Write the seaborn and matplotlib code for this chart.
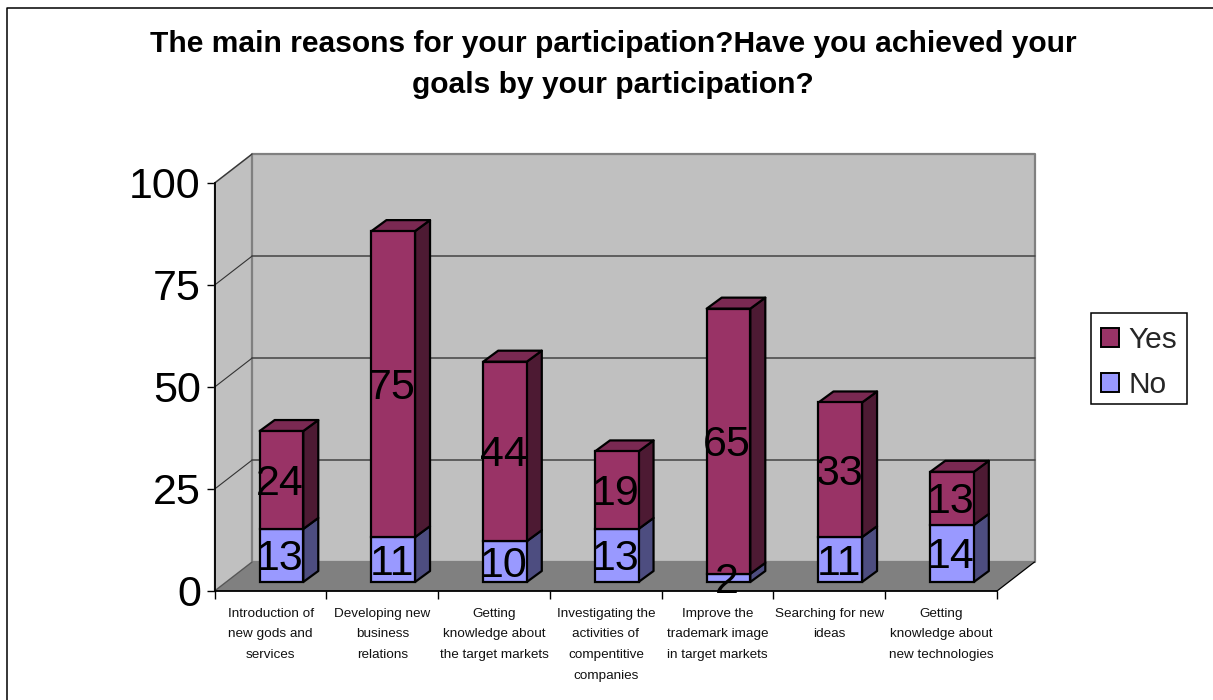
import matplotlib
matplotlib.use('Agg')
import matplotlib.pyplot as plt
import numpy as np
import pandas as pd
import seaborn as sns
from matplotlib.lines import Line2D
from matplotlib.patches import Patch, Polygon, Rectangle
from matplotlib.transforms import Affine2D, IdentityTransform

title = 'The main reasons for your participation?Have you achieved your\ngoals by your participation?'
categories = ['Introduction of\nnew gods and\nservices',
              'Developing new\nbusiness\nrelations',
              'Getting\nknowledge about\nthe target markets',
              'Investigating the\nactivities of\ncompentitive\ncompanies',
              'Improve the\ntrademark image\nin target markets',
              'Searching for new\nideas',
              'Getting\nknowledge about\nnew technologies']
no_values = [13, 11, 10, 13, 2, 11, 14]
yes_values = [24, 75, 44, 19, 65, 33, 13]
y_ticks = [0, 25, 50, 75, 100]

W, H = 1213, 700
WALL = '#C0C0C0'
FLOOR = '#808080'
YES = '#993366'
YES_SIDE = '#4D1A33'
YES_TOP = '#7A2952'
NO = '#9999FF'
NO_SIDE = '#4D4D80'

sns.set_theme(style='white')
plt.rcParams['font.family'] = ['Liberation Sans', 'DejaVu Sans']

fig = plt.figure(figsize=(W / 100, H / 100), dpi=100, facecolor='white')
# front plane of the fake 3D box, in pixels of the picture
left, right, bottom, top = 214.7, 997, 591, 183
ax = fig.add_axes([left / W, 1 - bottom / H, (right - left) / W, (bottom - top) / H])

df = pd.DataFrame({'cat': categories, 'No': no_values, 'Yes': yes_values})
bar_kws = dict(width=0.39, saturation=1, edgecolor='black', linewidth=1.6, legend=False, zorder=5)
sns.barplot(data=df, x='cat', y='No', color=NO, ax=ax, **bar_kws)
sns.barplot(data=df, x='cat', y='Yes', bottom=df['No'].values, color=YES, ax=ax, **bar_kws)
ax.set_xlim(-0.5, 6.5)
ax.set_ylim(0, 100)
ax.set_xlabel('')
ax.set_ylabel('')
ax.patch.set_visible(False)
for side in ['top', 'right']:
    ax.spines[side].set_visible(False)
for side in ['left', 'bottom']:
    ax.spines[side].set_linewidth(1.3)
    ax.spines[side].set_color('black')

# bars stand in the middle of the box depth
bar_tf = ax.transData + Affine2D().translate(10.9, 9)
label_tf = ax.transData + Affine2D().translate(9.5, 5)
depth_x, depth_y = 37.5, 29
bar_dx, bar_dy = 15, 11


def to_px(x, y):
    return ax.transData.transform((x, y))


def add_poly(points, color, zorder, edge='none', lw=0):
    ax.add_patch(Polygon(points, closed=True, facecolor=color, edgecolor=edge, linewidth=lw,
                         transform=IdentityTransform(), clip_on=False, zorder=zorder, joinstyle='round'))


# walls and floor
d = np.array([depth_x, depth_y])
bl, tl, br, tr = to_px(-0.5, 0), to_px(-0.5, 100), to_px(6.5, 0), to_px(6.5, 100)
add_poly([bl, tl, tl + d, bl + d], WALL, 1, '#808080', 1.2)
add_poly([bl + d, tl + d, tr + d, br + d], WALL, 1, '#808080', 1.6)
add_poly([bl, br, br + d, bl + d], FLOOR, 1.5)
ax.add_line(Line2D([br[0], br[0] + depth_x], [br[1], br[1] + depth_y], color='black', lw=0.9,
                   transform=IdentityTransform(), clip_on=False, zorder=2))
ax.add_line(Line2D([bl[0], bl[0] + depth_x], [bl[1], bl[1] + depth_y], color='#555555', lw=0.8,
                   transform=IdentityTransform(), clip_on=False, zorder=2))

# grid lines on the side and back walls
for v in y_ticks[1:]:
    a, b = to_px(-0.5, v), to_px(6.5, v)
    ax.add_line(Line2D([a[0], a[0] + depth_x], [a[1], a[1] + depth_y], color='#333333', lw=0.8,
                       transform=IdentityTransform(), clip_on=False, zorder=2))
    if v < 100:
        ax.add_line(Line2D([a[0] + depth_x, b[0] + depth_x], [a[1] + depth_y, b[1] + depth_y], color='#444444',
                           lw=1.1, transform=IdentityTransform(), clip_on=False, zorder=2))

# bar depth faces, built from the bars that seaborn drew
n = len(categories)
bars = [p for p in ax.patches if isinstance(p, Rectangle) and p.get_width() < 1 and p.get_zorder() == 5]
for i, bar in enumerate(bars):
    bar.set_transform(bar_tf)
    bar.set_clip_on(False)
    is_no = i < n
    x1 = bar.get_x() + bar.get_width()
    x0 = bar.get_x()
    y0, y1 = bar.get_y(), bar.get_y() + bar.get_height()
    p_r0 = bar_tf.transform((x1, y0))
    p_r1 = bar_tf.transform((x1, y1))
    p_l1 = bar_tf.transform((x0, y1))
    off = np.array([bar_dx, bar_dy])
    add_poly([p_r0, p_r1, p_r1 + off, p_r0 + off], NO_SIDE if is_no else YES_SIDE, 4, 'black', 1.6)
    if not is_no:
        add_poly([p_l1, p_r1, p_r1 + off, p_l1 + off], YES_TOP, 4, 'black', 1.6)

# value labels
for i in range(n):
    ax.text(i, no_values[i] / 2, str(no_values[i]), transform=label_tf, ha='center', va='center',
            fontsize=31, color='black', zorder=8, clip_on=False)
    ax.text(i, no_values[i] + yes_values[i] / 2, str(yes_values[i]), transform=label_tf, ha='center', va='center',
            fontsize=31, color='black', zorder=8, clip_on=False)

# ticks: y labels on front plane, x ticks on the category boundaries
ax.set_yticks(y_ticks)
ax.set_yticklabels([str(v) for v in y_ticks], fontsize=31, color='black')
ax.tick_params(axis='y', left=True, length=5.5, width=1, color='black', pad=4.5)
ax.set_xticks(np.arange(n + 1) - 0.5)
ax.set_xticklabels([''] * (n + 1))
ax.tick_params(axis='x', which='major', bottom=True, length=5.5, width=1, color='black')
ax.set_xticks(np.arange(n), minor=True)
ax.set_xticklabels(categories, minor=True, fontsize=9.7, color='#111111', linespacing=1.96, va='top')
ax.tick_params(axis='x', which='minor', bottom=False, length=0, pad=12)

fig.text(613 / W, 1 - 64.5 / H, title, ha='center', va='center', fontsize=21.6, fontweight='bold',
         color='black', linespacing=1.55)

# legend frame sits apart so the entries can be placed a little lower in it
fig.add_artist(Rectangle((1090.7 / W, 1 - 404 / H), 96 / W, 91 / H, facecolor='white', edgecolor='black', lw=1.1,
                         transform=fig.transFigure))
handles = [Patch(facecolor=YES, edgecolor='black', linewidth=1.4, label='Yes'),
           Patch(facecolor=NO, edgecolor='black', linewidth=1.4, label='No')]
fig.legend(handles=handles, loc='upper left', bbox_to_anchor=(1091.5 / W, 1 - 316.5 / H), fontsize=21.5,
           frameon=False, borderpad=0.33, labelspacing=0.55,
           handlelength=0.6, handleheight=0.6, handletextpad=0.3, borderaxespad=0)

# outer chart frame runs off the picture on the right and bottom
fig.add_artist(Line2D([6.5 / W, 6.5 / W, 1], [0, 1 - 7.5 / H, 1 - 7.5 / H], color='black', lw=1.1,
                      transform=fig.transFigure))

fig.savefig('out.png', dpi=100)
